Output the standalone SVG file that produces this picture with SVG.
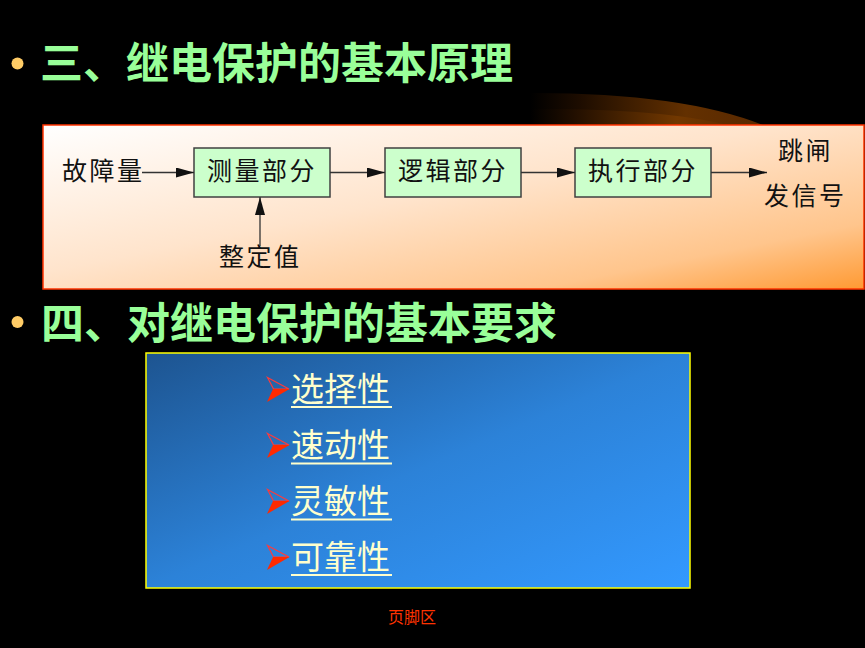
<svg xmlns="http://www.w3.org/2000/svg" width="865" height="648" viewBox="0 0 865 648">
  <defs>
    <linearGradient id="panelGrad" x1="0" y1="0" x2="1" y2="1">
      <stop offset="0" stop-color="#FFFFFF"/>
      <stop offset="0.45" stop-color="#FFE4CC"/>
      <stop offset="0.8" stop-color="#FFC58C"/>
      <stop offset="1" stop-color="#FF9A33"/>
    </linearGradient>
    <linearGradient id="blueGrad" x1="0" y1="0" x2="1" y2="1">
      <stop offset="0" stop-color="#1D5490"/>
      <stop offset="0.5" stop-color="#2C82D8"/>
      <stop offset="1" stop-color="#3399FF"/>
    </linearGradient>
    <linearGradient id="arcGradA" gradientUnits="userSpaceOnUse" x1="530" y1="0" x2="770" y2="0">
      <stop offset="0" stop-color="#000000"/>
      <stop offset="0.2" stop-color="#1C0C00"/>
      <stop offset="0.65" stop-color="#633000"/>
      <stop offset="1" stop-color="#582800"/>
    </linearGradient>
    <linearGradient id="arcGradB" gradientUnits="userSpaceOnUse" x1="530" y1="0" x2="740" y2="0">
      <stop offset="0" stop-color="#000000"/>
      <stop offset="0.2" stop-color="#200E00"/>
      <stop offset="0.7" stop-color="#723800"/>
      <stop offset="1" stop-color="#5E2C00"/>
    </linearGradient>
    <marker id="arrow" viewBox="0 0 18 10" refX="18" refY="5" markerWidth="18" markerHeight="10" markerUnits="userSpaceOnUse" orient="auto">
      <path d="M0,0 L18,5 L0,10 Z" fill="#111111"/>
    </marker>
    <style>
      .title { font-family: "Noto Sans CJK SC", "Noto Sans", sans-serif; font-weight: bold; font-size: 43px; fill: #99FF99; }
      .dot { fill: #FFCC66; }
      .lbl { font-family: "Noto Sans CJK SC", "Noto Sans", sans-serif; font-size: 25px; letter-spacing: 2.5px; fill: #111111; }
      .box { fill: #CCFFCC; stroke: #404040; stroke-width: 1.5; }
      .conn { stroke: #333333; stroke-width: 1.3; fill: none; marker-end: url(#arrow); }
      .item { font-family: "Noto Sans CJK SC", "Noto Sans", sans-serif; font-size: 33px; fill: #FFFFCC; }
      .uline { stroke: #FFFFCC; stroke-width: 2; }
      .arrUp { fill: none; stroke: #FF3A3A; stroke-width: 1.2; stroke-linejoin: miter; }
      .arrLo { fill: #FF2A00; }
      .foot { font-family: "Noto Sans CJK SC", "Noto Sans", sans-serif; font-size: 16px; fill: #FF3300; }
    </style>
  </defs>

  <rect x="0" y="0" width="865" height="648" fill="#000000"/>

  <g id="decoration">
    <path d="M525,93 Q680,92 763,125 L525,125 Z" fill="url(#arcGradA)"/>
    <path d="M525,109 Q660,108 727,125 L525,125 Z" fill="url(#arcGradB)"/>
  </g>

  <g id="title1">
    <circle class="dot" cx="17.5" cy="63.5" r="6"/>
    <text class="title" x="40" y="79">三、继电保护的基本原理</text>
  </g>

  <g id="panel">
    <rect x="43" y="125" width="821" height="164" fill="url(#panelGrad)" stroke="#FF3300" stroke-width="1.5"/>
  </g>

  <g id="input-fault">
    <text class="lbl" x="62" y="180">故障量</text>
  </g>
  <g id="setting">
    <text class="lbl" x="219" y="266">整定值</text>
  </g>
  <g id="measure">
    <rect class="box" x="194" y="148" width="136" height="49"/>
    <text class="lbl" x="207" y="180">测量部分</text>
  </g>
  <g id="logic">
    <rect class="box" x="385" y="148" width="136" height="49"/>
    <text class="lbl" x="398" y="180">逻辑部分</text>
  </g>
  <g id="execute">
    <rect class="box" x="575" y="148" width="136" height="49"/>
    <text class="lbl" x="588" y="180">执行部分</text>
  </g>
  <g id="output">
    <text class="lbl" x="778" y="160">跳闸</text>
    <text class="lbl" x="764" y="205">发信号</text>
  </g>

  <g id="connectors">
    <line class="conn" x1="142" y1="172.5" x2="194" y2="172.5"/>
    <line class="conn" x1="330" y1="172.5" x2="385" y2="172.5"/>
    <line class="conn" x1="521" y1="172.5" x2="575" y2="172.5"/>
    <line class="conn" x1="711" y1="172.5" x2="767" y2="172.5"/>
    <line class="conn" x1="260" y1="246" x2="260" y2="197"/>
  </g>

  <g id="title2">
    <circle class="dot" cx="17.5" cy="322" r="6"/>
    <text class="title" x="41" y="339">四、对继电保护的基本要求</text>
  </g>

  <g id="requirements">
    <rect x="146" y="353" width="544" height="235" fill="url(#blueGrad)" stroke="#FFFF00" stroke-width="1.5"/>
    <g id="req1">
      <path class="arrUp" d="M267.5,377.5 L289,389 L273.5,389 Z"/>
      <path class="arrLo" d="M273,389 L289.5,389 L267,402 Z"/>
      <text class="item" x="291" y="401">选择性</text>
      <line class="uline" x1="291" y1="407" x2="392" y2="407"/>
    </g>
    <g id="req2">
      <path class="arrUp" d="M267.5,433.5 L289,445 L273.5,445 Z"/>
      <path class="arrLo" d="M273,445 L289.5,445 L267,458 Z"/>
      <text class="item" x="291" y="457">速动性</text>
      <line class="uline" x1="291" y1="463.5" x2="392" y2="463.5"/>
    </g>
    <g id="req3">
      <path class="arrUp" d="M267.5,489.5 L289,501 L273.5,501 Z"/>
      <path class="arrLo" d="M273,501 L289.5,501 L267,514 Z"/>
      <text class="item" x="291" y="513">灵敏性</text>
      <line class="uline" x1="291" y1="519.5" x2="392" y2="519.5"/>
    </g>
    <g id="req4">
      <path class="arrUp" d="M267.5,545.5 L289,557 L273.5,557 Z"/>
      <path class="arrLo" d="M273,557 L289.5,557 L267,570 Z"/>
      <text class="item" x="291" y="569">可靠性</text>
      <line class="uline" x1="291" y1="575" x2="392" y2="575"/>
    </g>
  </g>

  <g id="footer">
    <text class="foot" x="388" y="623">页脚区</text>
  </g>
</svg>
